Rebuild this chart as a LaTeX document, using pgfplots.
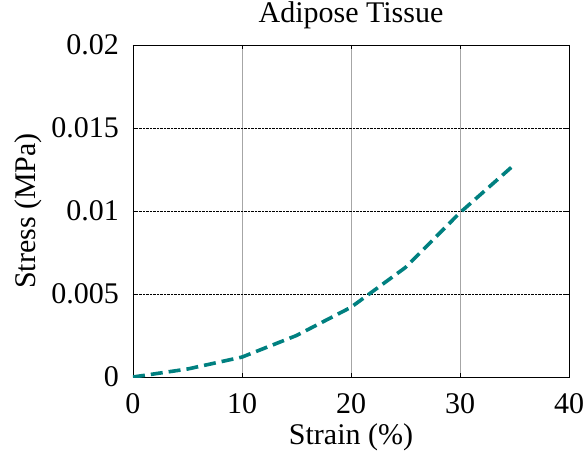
\documentclass[border=0pt]{standalone}
\usepackage{fontspec}
\setmainfont{Liberation Serif}
\usepackage{pgfplots}
\pgfplotsset{compat=1.18}
\definecolor{tealc}{RGB}{0,128,128}
\begin{document}
\begin{tikzpicture}
\useasboundingbox (-133pt,-78pt) rectangle (452pt,377pt);
\begin{axis}[
  at={(0pt,0pt)}, anchor=south west,
  width=436pt, height=332pt, scale only axis,
  xmin=0, xmax=40, ymin=0, ymax=0.02,
  xtick={0,10,20,30,40},
  ytick={0,0.005,0.01,0.015,0.02},
  yticklabels={0,0.005,0.01,0.015,0.02},
  scaled y ticks=false,
  /pgf/number format/assume math mode=true,
  tick label style={font=\fontsize{30}{33}\selectfont, inner sep=0pt},
  xticklabel style={anchor=base, yshift=-36pt},
  yticklabel style={anchor=east, xshift=-14pt},
  title={Adipose Tissue},
  title style={font=\fontsize{30}{33}\selectfont, at={(axis description cs:0.5,1.05)}, anchor=base, inner sep=0pt},
  xlabel={Strain (\%)},
  xlabel style={font=\fontsize{30}{33}\selectfont, at={(axis description cs:0.5,-0.2048)}, anchor=base, inner sep=0pt},
  ylabel={Stress (MPa)},
  ylabel style={font=\fontsize{30}{33}\selectfont, at={(axis description cs:-0.2225,0.5)}, anchor=base, inner sep=0pt},
  tick align=inside, major tick length=4pt,
  tick style={black, thin},
  axis line style={black, thin},
  xmajorgrids, ymajorgrids,
  x grid style={gray!70, line width=0.6pt},
  y grid style={black, densely dotted, line width=0.6pt},
]
\addplot[tealc, line width=3.6pt, dash pattern=on 12pt off 6pt] coordinates {
  (0,0) (5,0.00048) (10,0.0012) (15,0.0025) (20,0.0042) (25,0.0066) (30,0.0099) (35,0.0128)
};
\end{axis}
\end{tikzpicture}
\end{document}
